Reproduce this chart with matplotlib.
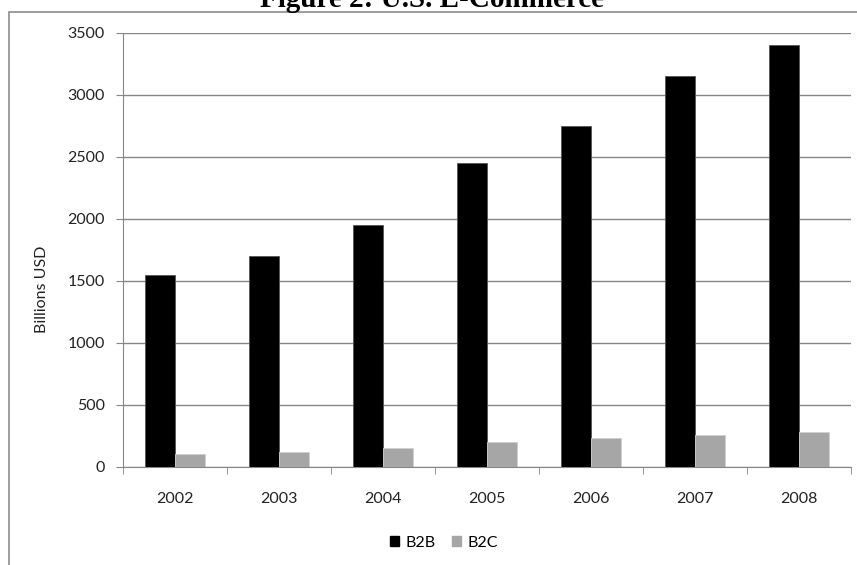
import numpy as np
import matplotlib
matplotlib.use('Agg')
import matplotlib.pyplot as plt
from matplotlib.patches import Rectangle, Patch

years = ['2002', '2003', '2004', '2005', '2006', '2007', '2008']
b2b = [1550, 1700, 1950, 2450, 2750, 3150, 3400]
b2c = [105, 125, 150, 200, 235, 255, 280]
yticks = [0, 500, 1000, 1500, 2000, 2500, 3000, 3500]

W, H = 857, 565
fig = plt.figure(figsize=(W / 100, H / 100), dpi=100)
plt.rcParams['font.family'] = ['Lato', 'DejaVu Sans']
fs = 11.5

# outer chart frame (cut off on right and bottom)
fig.patches.append(Rectangle((9 / W, -0.1), 1.2, 1 - 12 / H + 0.1, transform=fig.transFigure,
                             fill=False, edgecolor='#8c8c8c', linewidth=1.2))

ax = fig.add_axes([123 / W, 1 - 467 / H, (851 - 123) / W, (467 - 33) / H])

x = np.arange(len(years))
w = 0.285
grid_c = '#868686'
ax.bar(x - w / 2, b2b, width=w, color='black', edgecolor='#555555', linewidth=0.6, label='B2B', zorder=3)
ax.bar(x + w / 2, b2c, width=w, color='#a6a6a6', edgecolor='#d0d0d0', linewidth=0.6, label='B2C', zorder=3)

ax.set_xlim(-0.5, len(years) - 0.5)
ax.set_ylim(0, 3500)
ax.set_yticks(yticks)
ax.set_yticklabels([str(v) for v in yticks], fontsize=fs, color='#222222')
ax.yaxis.grid(True, color=grid_c, linewidth=1)
ax.set_axisbelow(True)

ax.set_xticks(x)
ax.set_xticklabels(years, fontsize=fs, color='#222222')
ax.set_xticks(np.arange(len(years) + 1) - 0.5, minor=True)
ax.tick_params(axis='x', which='major', length=0, pad=18)
ax.tick_params(axis='x', which='minor', length=5, color=grid_c, direction='out')
ax.tick_params(axis='y', length=5, color=grid_c, pad=8)

for s in ['top', 'right']:
    ax.spines[s].set_visible(False)
ax.spines['left'].set_color(grid_c)
ax.spines['bottom'].set_color(grid_c)

fig.text(42 / W, 1 - 289 / H, 'Billions USD', rotation=90, ha='center', va='center',
         fontsize=fs, color='#222222')

fig.text(432 / W, 1 - 7 / H, 'Figure 2: U.S. E-Commerce', ha='center', va='baseline',
         fontsize=21, fontweight='bold', family=['Liberation Serif', 'DejaVu Serif'])

handles = [Patch(facecolor='black', edgecolor='black'), Patch(facecolor='#a6a6a6', edgecolor='#a6a6a6')]
fig.legend(handles, ['B2B', 'B2C'], loc='center', bbox_to_anchor=(444 / W, 1 - 543 / H), ncol=2,
           frameon=False, fontsize=fs, handlelength=0.6, handleheight=0.6, handletextpad=0.4,
           columnspacing=1.0)

fig.savefig('out.png', dpi=100)
